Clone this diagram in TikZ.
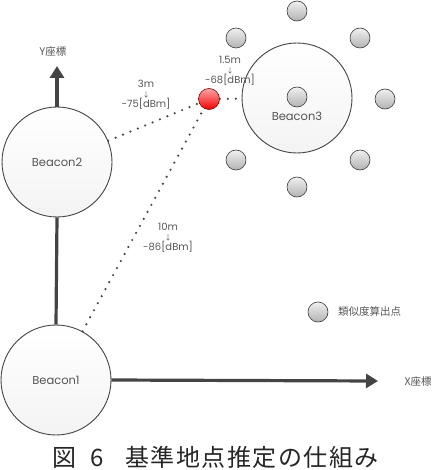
\documentclass[tikz,border=0pt]{standalone}
\usepackage{fontspec}
\setmainfont{Poppins}
\newfontfamily\jp{Noto Sans CJK JP}
\newfontfamily\jpcap[LetterSpace=6]{Noto Sans CJK JP}
\usetikzlibrary{arrows.meta}
\definecolor{txt}{HTML}{555555}
\definecolor{axis}{HTML}{444444}
\tikzset{
  beacon/.style={circle,draw=axis,line width=0.9pt,top color=white,bottom color=gray!9,minimum size=110pt,inner sep=0pt,text=txt,font=\fontsize{11.5}{13}\selectfont},
  ball/.style={circle,draw=gray!45!black,line width=0.6pt,top color=gray!12,bottom color=gray!60,minimum size=20pt,inner sep=0pt},
  redball/.style={circle,draw=red!50!black,line width=0.6pt,top color=red!35,bottom color=red!95!black,minimum size=21pt,inner sep=0pt},
  axisline/.style={draw=axis,line width=3.2pt},
  axisarrow/.style={axisline,-{Triangle[length=12pt,width=14pt]}},
  dotline/.style={draw=axis,line width=2.4pt,line cap=round,dash pattern=on 0pt off 8pt},
  lbl/.style={text=txt,font=\fontsize{10}{11}\selectfont,inner sep=0pt,align=center},
  jlbl/.style={text=txt,font=\jp\fontsize{10.5}{12}\selectfont,inner sep=0pt}
}
\begin{document}
\begin{tikzpicture}[x=1pt,y=-1pt]
\useasboundingbox (0,0) rectangle (437,470);
% beacons
\node[beacon] (b1) at (56,380) {Beacon1};
\node[beacon] (b2) at (57,162) {Beacon2};
\node[beacon] (b3) at (297,98) {};
\node[lbl,font=\fontsize{11.5}{13}\selectfont] (b3l) at (297,116) {Beacon3};
% candidate points around Beacon3
\node[ball] (c0) at (297,97) {};
\node[ball] (c1) at (297,11) {};
\node[ball] (c2) at (236,38) {};
\node[ball] (c3) at (360,38) {};
\node[ball] (c4) at (385,99) {};
\node[ball] (c5) at (236,160) {};
\node[ball] (c6) at (360,160) {};
\node[ball] (c7) at (297,187) {};
\node[redball] (r) at (209,99) {};
% axes
\coordinate (yend) at (57,66);
\coordinate (xend) at (378,381);
\draw[axisline] (b1.north) -- (b2.south);
\draw[axisarrow] (b2.north) -- (yend);
\draw[axisarrow] (b1.east) -- (xend);
\node[jlbl] (ylab) at (53,52) {Y座標};
\node[jlbl] (xlab) at (418,382) {X座標};
% dotted distance lines
\draw[dotline] (b2) -- (r);
\draw[dotline] (b1) -- (r);
\draw[dotline] (r) -- (b3);
% labels
\node[lbl] (l1) at (146,95) {3m\\[-1pt]{\jp\fontsize{7}{8}\selectfont ↓}\\[-1pt]-75[dBm]};
\node[lbl] (l2) at (230,71) {1.5m\\[-1pt]{\jp\fontsize{7}{8}\selectfont ↓}\\[-1pt]-68[dBm]};
\node[lbl] (l3) at (168,238) {10m\\[-1pt]{\jp\fontsize{7}{8}\selectfont ↓}\\[-1pt]-86[dBm]};
% legend
\node[ball] (lg) at (318,312) {};
\node[jlbl,anchor=west] (lgt) at (338,312) {類似度算出点};
% caption
\node[anchor=west,inner sep=0pt,text=black!85,font=\fontsize{24}{27}\selectfont] (cap) at (52,457) {\jp 図\hspace{14pt}6\hspace{22pt}\jpcap 基準地点推定の仕組み};
\end{tikzpicture}
\end{document}
